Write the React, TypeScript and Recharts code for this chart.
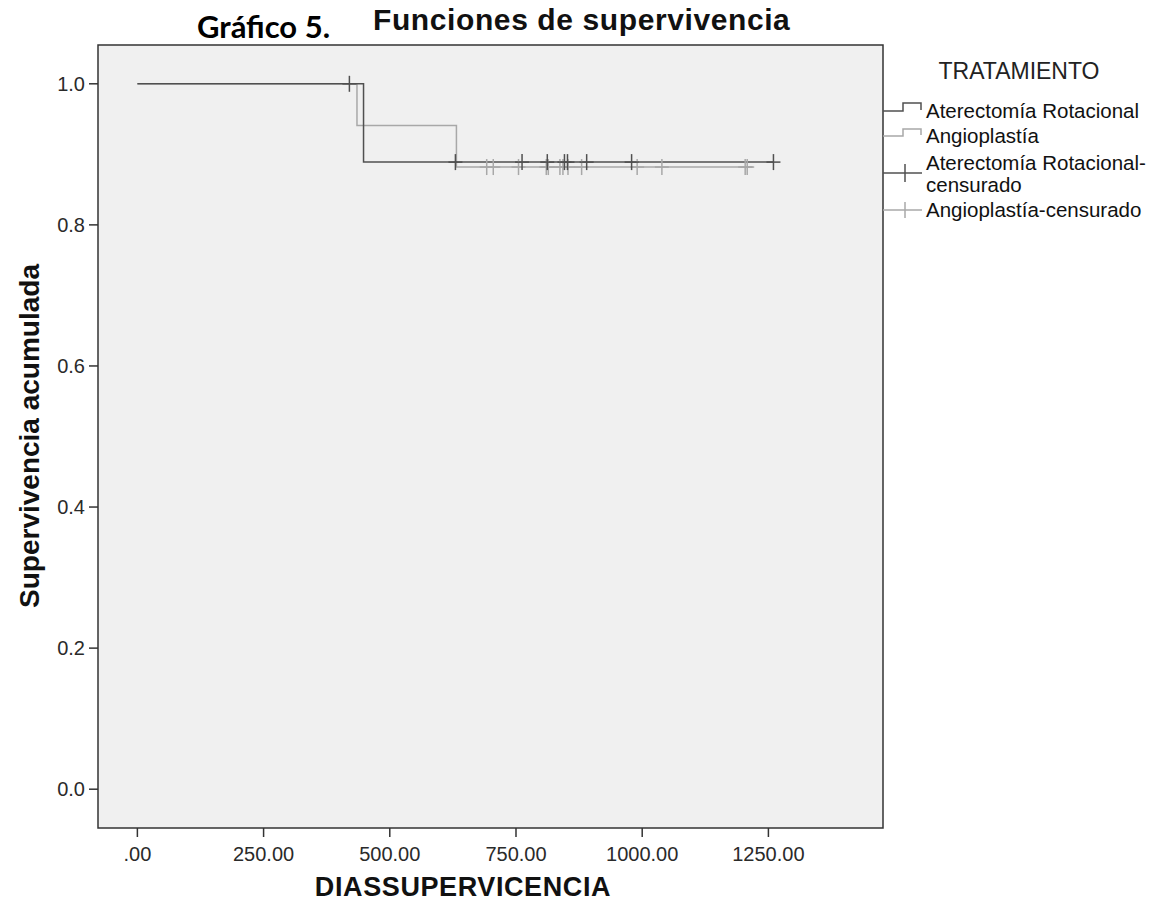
import React from 'react';
import { ComposedChart, Line, Scatter, XAxis, YAxis, ReferenceArea, Legend, Label } from 'recharts';

// Kaplan-Meier step curves (time in days, cumulative survival)
const aterTimes = [0, 448, 1260];
const aterSurv = [1.0, 0.889, 0.889];
const angioTimes = [0, 435, 632, 1219];
const angioSurv = [1.0, 0.941, 0.882, 0.882];

// Censored observations
const aterCensTimes = [420, 630, 762, 812, 846, 852, 890, 979, 1260];
const aterCensSurv = [1.0, 0.889, 0.889, 0.889, 0.889, 0.889, 0.889, 0.889, 0.889];
const angioCensTimes = [692, 705, 755, 810, 814, 837, 843, 853, 880, 990, 1039, 1204, 1208];
const angioCensSurv = [0.882, 0.882, 0.882, 0.882, 0.882, 0.882, 0.882, 0.882, 0.882, 0.882, 0.882, 0.882, 0.882];

const xTicks = [0, 250, 500, 750, 1000, 1250];
const yTicks = [0, 0.2, 0.4, 0.6, 0.8, 1.0];

const seriesNames = ['Aterectomía Rotacional', 'Angioplastía'];
const censNames = ['Aterectomía Rotacional-censurado', 'Angioplastía-censurado'];

const zip = (ts: number[], ss: number[]) => ts.map((t, i) => ({ t, s: ss[i] }));
const aterData = zip(aterTimes, aterSurv);
const angioData = zip(angioTimes, angioSurv);
const aterCens = zip(aterCensTimes, aterCensSurv);
const angioCens = zip(angioCensTimes, angioCensSurv);

const DARK = '#505050';
const LIGHT = '#a8a8a8';
const FONT = '"Liberation Sans", Arial, sans-serif';

const X_DOMAIN: [number, number] = [-78, 1477];
const Y_DOMAIN: [number, number] = [-0.055, 1.055];

const makeCross = (color: string) => (props: any) => {
  const { cx, cy } = props;
  if (cx == null || cy == null) return <g />;
  return (
    <g>
      <line x1={cx - 7} y1={cy} x2={cx + 7} y2={cy} stroke={color} strokeWidth={1.5} />
      <line x1={cx} y1={cy - 8} x2={cx} y2={cy + 8} stroke={color} strokeWidth={1.5} />
    </g>
  );
};

const XTick = (props: any) => {
  const { x, y, payload } = props;
  const v = payload.value as number;
  const label = v === 0 ? '.00' : v.toFixed(2);
  return (
    <text x={x} y={y + 22} textAnchor="middle" fontFamily={FONT} fontSize={20} fill="#2a2a2a">
      {label}
    </text>
  );
};

const YTick = (props: any) => {
  const { x, y, payload } = props;
  const v = payload.value as number;
  return (
    <text x={x - 2} y={y + 7} textAnchor="end" fontFamily={FONT} fontSize={20} fill="#2a2a2a">
      {v.toFixed(1)}
    </text>
  );
};

const LegendContent = () => {
  const fs = 20.5;
  return (
    <svg width={266} height={190} style={{ display: 'block' }}>
      <text x={136} y={29} textAnchor="middle" fontFamily={FONT} fontSize={23} fill="#222">TRATAMIENTO</text>
      <path d="M0,61 H20 V53 H38 V60" fill="none" stroke={DARK} strokeWidth={1.5} />
      <text x={43} y={68} fontFamily={FONT} fontSize={fs} fill="#111">{seriesNames[0]}</text>
      <path d="M0,86 H20 V79 H38 V85" fill="none" stroke={LIGHT} strokeWidth={1.5} />
      <text x={43} y={93} fontFamily={FONT} fontSize={fs} fill="#111">{seriesNames[1]}</text>
      <line x1={0} y1={123} x2={39} y2={123} stroke={DARK} strokeWidth={1.5} />
      <line x1={22} y1={114} x2={22} y2={132} stroke={DARK} strokeWidth={1.5} />
      <text x={43} y={120} fontFamily={FONT} fontSize={fs} fill="#111">Aterectomía Rotacional-</text>
      <text x={43} y={142} fontFamily={FONT} fontSize={fs} fill="#111">censurado</text>
      <line x1={0} y1={160} x2={39} y2={160} stroke={LIGHT} strokeWidth={1.5} />
      <line x1={22} y1={152} x2={22} y2={168} stroke={LIGHT} strokeWidth={1.5} />
      <text x={43} y={167} fontFamily={FONT} fontSize={fs} fill="#111">{censNames[1]}</text>
    </svg>
  );
};

export default function App() {
  return (
    <div style={{ position: 'relative', width: 1141, height: 903, background: '#fff' }}>
      <div style={{ position: 'absolute', left: 189, top: -1, fontFamily: 'Lato, "Open Sans", sans-serif', fontWeight: 700, fontSize: 31, color: '#000', whiteSpace: 'nowrap' }}>
        Gráfico 5.
      </div>
      <div style={{ position: 'absolute', left: 365, top: -5, fontFamily: FONT, fontWeight: 700, fontSize: 30, letterSpacing: 0.6, color: '#111', whiteSpace: 'nowrap' }}>
        Funciones de supervivencia
      </div>
      <ComposedChart width={1141} height={903} margin={{ top: 37, right: 266, left: 0, bottom: 0 }}>
        <ReferenceArea x1={X_DOMAIN[0]} x2={X_DOMAIN[1]} y1={Y_DOMAIN[0]} y2={Y_DOMAIN[1]} fill="#f0f0f0" fillOpacity={1} stroke="#333" strokeWidth={1.5} ifOverflow="extendDomain" />
        <XAxis
          type="number"
          dataKey="t"
          domain={X_DOMAIN}
          ticks={xTicks}
          allowDataOverflow
          axisLine={false}
          tickLine={{ stroke: '#333', strokeWidth: 1.5 }}
          tickSize={9}
          tick={<XTick />}
          height={83}
        >
          <Label value="DIASSUPERVICENCIA" position="insideBottom" offset={0} content={() => (
            <text x={455} y={888} textAnchor="middle" fontFamily={FONT} fontWeight={700} fontSize={27} letterSpacing={0.6} fill="#111">DIASSUPERVICENCIA</text>
          )} />
        </XAxis>
        <YAxis
          type="number"
          dataKey="s"
          domain={Y_DOMAIN}
          ticks={yTicks}
          allowDataOverflow
          axisLine={false}
          tickLine={{ stroke: '#333', strokeWidth: 1.5 }}
          tickSize={9}
          tick={<YTick />}
          width={90}
        >
          <Label value="Supervivencia acumulada" content={() => (
            <text x={31} y={428} transform="rotate(-90 31 428)" textAnchor="middle" fontFamily={FONT} fontWeight={700} fontSize={28} fill="#111">Supervivencia acumulada</text>
          )} />
        </YAxis>
        <Line data={angioData} dataKey="s" type="stepAfter" stroke={LIGHT} strokeWidth={1.5} dot={false} isAnimationActive={false} name={seriesNames[1]} />
        <Line data={aterData} dataKey="s" type="stepAfter" stroke={DARK} strokeWidth={1.5} dot={false} isAnimationActive={false} name={seriesNames[0]} />
        <Scatter data={angioCens} dataKey="s" shape={makeCross(LIGHT)} isAnimationActive={false} name={censNames[1]} />
        <Scatter data={aterCens} dataKey="s" shape={makeCross(DARK)} isAnimationActive={false} name={censNames[0]} />
        <Legend layout="vertical" verticalAlign="middle" align="center" content={<LegendContent />} wrapperStyle={{ position: 'absolute', left: 875, top: 42, width: 266, margin: 0 }} />
      </ComposedChart>
    </div>
  );
}
